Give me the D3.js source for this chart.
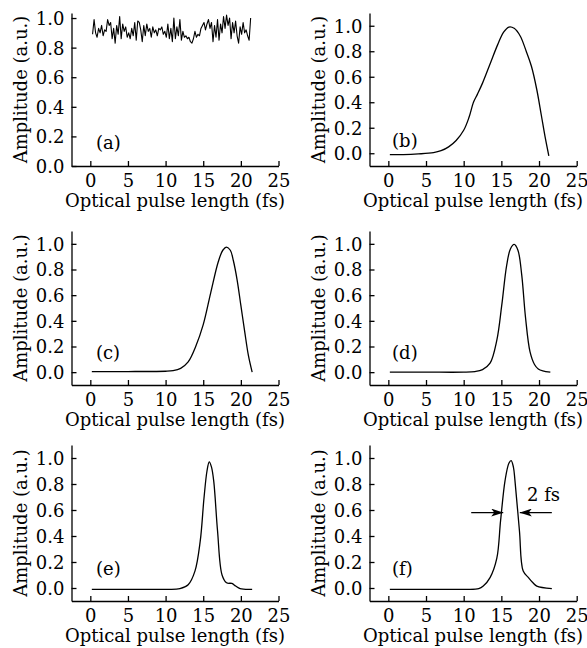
<!DOCTYPE html>
<html>
<head>
<meta charset="utf-8">
<script src="https://cdn.jsdelivr.net/npm/d3@7"></script>
<style>
  body { margin: 0; background: #fff; }
  svg { display: block; }
</style>
</head>
<body>
<div id="chart"></div>
<script>
// panel (a): noisy input, sampled every 0.2 fs from 0.3 fs
const noiseStart = 0.3;
const noiseStep = 0.2;
const noiseY = [0.89,0.99,0.90,0.87,0.93,0.90,0.95,0.88,0.92,0.91,
  0.99,0.95,0.97,0.86,0.93,0.83,0.95,0.89,1.01,0.86,
  0.96,0.91,0.94,0.87,0.90,0.86,0.93,0.88,0.97,0.85,
  0.98,0.97,0.92,0.84,0.95,0.88,0.96,0.91,0.93,0.87,
  0.94,0.90,0.92,0.88,0.93,0.92,0.94,0.89,0.91,0.87,
  0.96,0.86,0.93,0.84,1.00,0.86,0.94,0.88,0.99,0.85,
  0.91,0.87,0.88,0.86,0.87,0.84,0.83,0.86,0.91,0.87,
  0.89,0.88,0.93,0.95,0.97,0.92,0.96,0.99,0.93,0.97,
  0.84,0.95,0.87,0.99,0.85,0.96,0.90,1.01,0.93,1.02,
  0.95,1.00,0.86,0.97,0.90,0.98,0.88,0.83,0.94,0.89,
  0.97,0.90,0.92,0.88,0.85,1.00];

// panels (b)-(f): pulse shapes
const bX = [0.2, 2, 4, 6, 7, 8, 9, 10, 10.7, 11.3, 11.8, 12.5, 13.5, 14.5, 15.3, 16.0, 16.7, 17.5, 18.3, 19.0, 19.7, 20.3, 20.8, 21.3];
const bY = [-0.01, -0.01, -0.005, 0.005, 0.02, 0.05, 0.1, 0.18, 0.28, 0.4, 0.46, 0.55, 0.7, 0.85, 0.95, 0.99, 0.98, 0.92, 0.8, 0.68, 0.5, 0.3, 0.13, -0.02];

const cX = [0.2, 5, 10, 11, 12, 13, 14, 15, 16, 17, 17.6, 18.1, 18.6, 19.0, 19.5, 20.0, 20.5, 21.0, 21.5];
const cY = [0.005, 0.005, 0.007, 0.012, 0.03, 0.08, 0.2, 0.37, 0.62, 0.86, 0.95, 0.975, 0.95, 0.87, 0.72, 0.52, 0.32, 0.13, 0.0];

const dX = [0.2, 5, 10, 11.5, 12.5, 13.5, 14.4, 15.05, 15.7, 16.2, 16.7, 17.2, 17.7, 18.2, 18.8, 19.4, 19.9, 20.5, 21.5];
const dY = [0.0, 0.0, 0.0, 0.005, 0.02, 0.07, 0.25, 0.52, 0.83, 0.96, 0.995, 0.95, 0.76, 0.43, 0.16, 0.06, 0.025, 0.01, 0.0];

const eX = [0.2, 5, 10, 11.9, 13.0, 13.9, 14.6, 15.1, 15.5, 15.8, 16.1, 16.4, 16.9, 17.5, 18.1, 18.8, 19.3, 19.9, 21.5];
const eY = [-0.01, -0.01, -0.01, -0.005, 0.025, 0.13, 0.36, 0.69, 0.9, 0.97, 0.93, 0.82, 0.44, 0.1, 0.04, 0.035, 0.015, -0.005, -0.01];

const fX = [0.2, 5, 10, 12.0, 12.6, 13.5, 14.4, 14.9, 15.5, 16.0, 16.3, 16.6, 16.8, 17.4, 17.9, 18.6, 19.2, 19.7, 21.7];
const fY = [-0.01, -0.01, -0.01, -0.005, 0.015, 0.08, 0.23, 0.52, 0.83, 0.96, 0.98, 0.93, 0.83, 0.44, 0.13, 0.08, 0.04, 0.015, -0.005];

const xTicks = [0, 5, 10, 15, 20, 25];
const yTicks = [0, 0.2, 0.4, 0.6, 0.8, 1.0];
const panelLabels = ["(a)", "(b)", "(c)", "(d)", "(e)", "(f)"];

// FWHM marker in (f)
const fwhmY = 0.58;
const fwhmLeft = [11.0, 15.25];
const fwhmRight = [21.7, 17.45];
const fwhmText = "2 fs";

const xTitle = "Optical pulse length (fs)";
const yTitle = "Amplitude (a.u.)";

const width = 587, height = 648;
const font = "'DejaVu Serif', serif";

const svg = d3.select("#chart").append("svg")
    .attr("width", width)
    .attr("height", height);

svg.append("defs").append("marker")
    .attr("id", "arrow")
    .attr("viewBox", "0 0 12 8")
    .attr("refX", 12)
    .attr("refY", 4)
    .attr("markerWidth", 12)
    .attr("markerHeight", 8)
    .attr("markerUnits", "userSpaceOnUse")
    .attr("orient", "auto")
    .append("path")
    .attr("d", "M0,0 L12,4 L0,8 L3,4 Z")
    .attr("fill", "#000");

const smooth = d3.curveCatmullRom.alpha(0.5);
const noiseX = noiseY.map((_, i) => noiseStart + i * noiseStep);
const series = [
    { x: noiseX, y: noiseY, curve: d3.curveLinear, w: 1.1 },
    { x: bX, y: bY, curve: smooth, w: 1.3 },
    { x: cX, y: cY, curve: smooth, w: 1.3 },
    { x: dX, y: dY, curve: smooth, w: 1.3 },
    { x: eX, y: eY, curve: smooth, w: 1.3 },
    { x: fX, y: fY, curve: smooth, w: 1.3 }
];

// layout of the six panels
const cols = [[71.5, 278.5], [369.5, 576.7]];
const rows = [[166, 13], [385, 231], [601, 445]];
const labelPos = [[0.75, 0.16], [0.5, 0.10], [0.75, 0.15], [0.5, 0.15], [0.75, 0.15], [0.5, 0.15]];

series.forEach((s, i) => {
    const col = i % 2, row = Math.floor(i / 2);
    const x = d3.scaleLinear().domain([-2.5, 25]).range(cols[col]);
    const y = d3.scaleLinear()
        .domain(i === 0 ? [0, 1.034] : [-0.1, 1.1])
        .range(rows[row]);

    const g = svg.append("g");

    const xAxis = g.append("g")
        .attr("transform", `translate(0,${rows[row][0]})`)
        .call(d3.axisBottom(x).tickValues(xTicks).tickSizeInner(-5).tickSizeOuter(0).tickPadding(8));
    const yAxis = g.append("g")
        .attr("transform", `translate(${cols[col][0]},0)`)
        .call(d3.axisLeft(y).tickValues(yTicks).tickFormat(d3.format(".1f")).tickSizeInner(-5).tickSizeOuter(0).tickPadding(7));

    [xAxis, yAxis].forEach(a => {
        a.attr("font-family", font).attr("font-size", 18);
        a.selectAll("path, line").attr("stroke", "#000").attr("stroke-width", 1.3);
        a.selectAll("text").attr("fill", "#000");
    });
    yAxis.selectAll("text").attr("dy", "0.36em");

    g.append("text")
        .attr("x", (cols[col][0] + cols[col][1]) / 2)
        .attr("y", rows[row][0] + 41)
        .attr("text-anchor", "middle")
        .attr("font-family", font)
        .attr("font-size", 18)
        .text(xTitle);

    g.append("text")
        .attr("transform", `translate(${cols[col][0] - 51},${(rows[row][0] + rows[row][1]) / 2}) rotate(-90)`)
        .attr("text-anchor", "middle")
        .attr("dominant-baseline", "central")
        .attr("font-family", font)
        .attr("font-size", 18)
        .text(yTitle);

    g.append("text")
        .attr("x", x(labelPos[i][0]))
        .attr("y", y(labelPos[i][1]))
        .attr("dominant-baseline", "central")
        .attr("font-family", font)
        .attr("font-size", 18)
        .text(panelLabels[i]);

    const line = d3.line()
        .x(d => x(d[0]))
        .y(d => y(d[1]))
        .curve(s.curve);

    g.append("path")
        .datum(s.x.map((v, k) => [v, s.y[k]]))
        .attr("d", line)
        .attr("fill", "none")
        .attr("stroke", "#000")
        .attr("stroke-width", s.w)
        .attr("stroke-linejoin", "round");

    if (i === 5) {
        [fwhmLeft, fwhmRight].forEach(a => {
            g.append("line")
                .attr("x1", x(a[0])).attr("x2", x(a[1]))
                .attr("y1", y(fwhmY)).attr("y2", y(fwhmY))
                .attr("stroke", "#000")
                .attr("stroke-width", 1.2)
                .attr("marker-end", "url(#arrow)");
        });
        g.append("text")
            .attr("x", x(18.4))
            .attr("y", y(0.67))
            .attr("font-family", font)
            .attr("font-size", 18)
            .text(fwhmText);
    }
});
</script>
</body>
</html>
